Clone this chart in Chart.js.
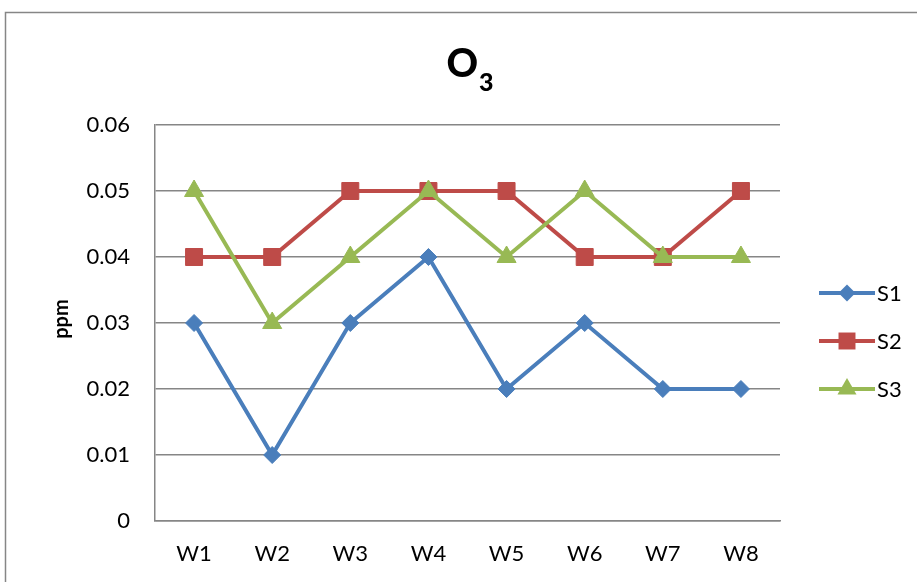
<!DOCTYPE html>
<html>
<head>
<meta charset="utf-8">
<script src="https://cdn.jsdelivr.net/npm/chart.js@4/dist/chart.umd.min.js"></script>
<style>
  html, body { margin: 0; padding: 0; background: #ffffff; }
  #wrap { position: relative; width: 917px; height: 582px; }
</style>
</head>
<body>
<div id="wrap"><canvas id="c" width="917" height="582"></canvas></div>
<script>
// Weekly ozone readings (ppm) at three sites
const weeks = ['W1', 'W2', 'W3', 'W4', 'W5', 'W6', 'W7', 'W8'];
const s1 = [0.03, 0.01, 0.03, 0.04, 0.02, 0.03, 0.02, 0.02];
const s2 = [0.04, 0.04, 0.05, 0.05, 0.05, 0.04, 0.04, 0.05];
const s3 = [0.05, 0.03, 0.04, 0.05, 0.04, 0.05, 0.04, 0.04];
const seriesNames = ['S1', 'S2', 'S3'];
const yTicks = [0, 0.01, 0.02, 0.03, 0.04, 0.05, 0.06];
const yTitle = 'ppm';

const FONT = 'Lato, "Open Sans", "DejaVu Sans", sans-serif';
const GRID = '#868686';
const COLORS = ['#4A7EBB', '#BE4B48', '#98B954'];
const STYLES = ['rectRot', 'rect', 'triangle'];
const RADII = [8.5, 12, 11];

function mkDataset(i, data, order) {
  return {
    label: seriesNames[i],
    data: data,
    borderColor: COLORS[i],
    backgroundColor: COLORS[i],
    borderWidth: 4,
    pointStyle: STYLES[i],
    pointRadius: RADII[i],
    pointHoverRadius: RADII[i],
    pointBorderWidth: 1,
    pointBorderColor: COLORS[i],
    pointBackgroundColor: COLORS[i],
    tension: 0,
    fill: false,
    order: order
  };
}

// Frame around the whole chart
const framePlugin = {
  id: 'frame',
  beforeDraw(chart) {
    const ctx = chart.ctx;
    ctx.save();
    ctx.fillStyle = '#ffffff';
    ctx.fillRect(0, 0, chart.width, chart.height);
    ctx.strokeStyle = GRID;
    ctx.lineWidth = 1.5;
    ctx.strokeRect(5.5, 12.5, 1200, 1200);
    ctx.restore();
  }
};

// Title "O3" with subscript digit, and the rotated unit label
const titlePlugin = {
  id: 'subTitle',
  afterDraw(chart) {
    const ctx = chart.ctx;
    ctx.save();
    ctx.fillStyle = '#000000';
    ctx.textBaseline = 'alphabetic';
    ctx.textAlign = 'left';
    const big = '900 39px ' + FONT;
    const small = '900 25px ' + FONT;
    ctx.font = big;
    const wO = ctx.measureText('O').width;
    ctx.font = small;
    const w3 = ctx.measureText('3').width;
    const x0 = 470 - (wO + 1 + w3) / 2;
    ctx.font = big;
    ctx.fillText('O', x0, 77);
    ctx.font = small;
    ctx.fillText('3', x0 + wO + 1, 91);

    ctx.translate(62, 319);
    ctx.rotate(-Math.PI / 2);
    ctx.font = 'bold 20px ' + FONT;
    ctx.textAlign = 'center';
    ctx.textBaseline = 'middle';
    ctx.fillText(yTitle, 0, 0);
    ctx.restore();
  }
};

// Legend: short line with marker, then series name
function drawMarker(ctx, style, x, y, r) {
  ctx.beginPath();
  if (style === 'rectRot') {
    ctx.moveTo(x - r, y); ctx.lineTo(x, y - r); ctx.lineTo(x + r, y); ctx.lineTo(x, y + r);
  } else if (style === 'rect') {
    const s = r * Math.SQRT1_2;
    ctx.rect(x - s, y - s, 2 * s, 2 * s);
  } else {
    ctx.moveTo(x, y - r);
    ctx.lineTo(x + r * Math.sin(Math.PI / 3), y + r / 2);
    ctx.lineTo(x - r * Math.sin(Math.PI / 3), y + r / 2);
  }
  ctx.closePath();
  ctx.fill();
}
const legendPlugin = {
  id: 'sideLegend',
  afterDraw(chart) {
    const ctx = chart.ctx;
    const rows = [293, 341, 389];
    ctx.save();
    for (let i = 0; i < seriesNames.length; i++) {
      const y = rows[i];
      ctx.strokeStyle = COLORS[i];
      ctx.fillStyle = COLORS[i];
      ctx.lineWidth = 4;
      ctx.beginPath();
      ctx.moveTo(819, y);
      ctx.lineTo(875, y);
      ctx.stroke();
      drawMarker(ctx, STYLES[i], 847, y, RADII[i]);
      ctx.fillStyle = '#000000';
      ctx.font = '22px ' + FONT;
      ctx.textAlign = 'left';
      ctx.textBaseline = 'middle';
      ctx.fillText(seriesNames[i], 877, y + 1);
    }
    ctx.restore();
  }
};

new Chart(document.getElementById('c'), {
  type: 'line',
  data: {
    labels: weeks,
    datasets: [mkDataset(0, s1, 3), mkDataset(1, s2, 2), mkDataset(2, s3, 1)]
  },
  plugins: [framePlugin, titlePlugin, legendPlugin],
  options: {
    responsive: false,
    animation: false,
    devicePixelRatio: 1,
    layout: { padding: { top: 125, right: 137, bottom: 0, left: 0 } },
    plugins: {
      legend: { display: false },
      title: { display: false },
      tooltip: { enabled: false }
    },
    scales: {
      x: {
        offset: true,
        grid: { display: false, drawTicks: false },
        border: { display: true, color: GRID, width: 1.5 },
        ticks: { color: '#000000', font: { family: FONT, size: 22 }, padding: 20, maxRotation: 0 },
        afterFit(scale) { scale.height = 61; }
      },
      y: {
        min: 0,
        max: 0.06,
        afterBuildTicks(scale) { scale.ticks = yTicks.map(v => ({ value: v })); },
        grid: { color: GRID, lineWidth: 1.5, drawTicks: false },
        border: { display: true, color: GRID, width: 1.5 },
        ticks: {
          color: '#000000',
          font: { family: FONT, size: 22 },
          padding: 25,
          callback: v => (v === 0 ? '0' : v.toFixed(2))
        },
        afterFit(scale) { scale.width = 155; }
      }
    }
  }
});
</script>
</body>
</html>
